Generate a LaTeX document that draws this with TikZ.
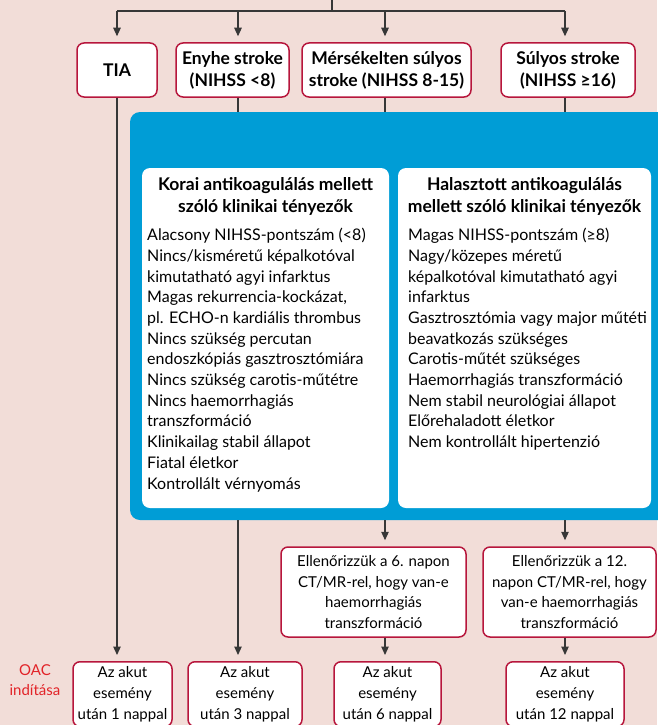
\documentclass[tikz,border=0pt]{standalone}
\usepackage{fontspec}
\setmainfont{Lato}
\usetikzlibrary{arrows.meta}
\definecolor{bg}{RGB}{242,221,216}
\definecolor{frame}{RGB}{183,22,60}
\definecolor{panel}{RGB}{0,157,214}
\definecolor{oacred}{RGB}{226,35,40}
\definecolor{wirec}{RGB}{55,55,55}
\begin{document}
\begin{tikzpicture}[x=1pt,y=-1pt,
  box/.style={draw=frame, line width=1.5pt, fill=white, rounded corners=7pt,
    align=center, inner xsep=0pt, inner ysep=0pt},
  wire/.style={draw=wirec, line width=1.1pt},
  arr/.style={wire, -{Triangle[width=7.5pt,length=8.5pt]}, shorten >=6pt},
  txt/.style={font=\fontsize{15}{20.6}\selectfont},
  listtxt/.style={font=\fontsize{16}{20.7}\selectfont},
  hdr/.style={font=\bfseries\fontsize{17.5}{22}\selectfont},
  plain/.style={inner sep=0pt, align=left, listtxt},
]
\useasboundingbox (0,0) rectangle (657,725);
\fill[bg] (0,0) rectangle (657,725);

% branch points
\coordinate (root) at (332,0);
\coordinate (hub) at (332,11);
\coordinate (b1) at (117,11);
\coordinate (b2) at (238,11);
\coordinate (b3) at (385,11);
\coordinate (b4) at (565,11);

% stroke severity boxes
\node[box, hdr, minimum width=80pt, minimum height=54pt] (tia) at (117,70) {TIA};
\node[box, hdr, minimum width=113pt, minimum height=54pt] (enyhe) at (232.5,70) {Enyhe stroke\\(NIHSS <8)};
\node[box, hdr, minimum width=169pt, minimum height=54pt] (mers) at (386.5,70) {Mérsékelten súlyos\\stroke (NIHSS 8-15)};
\node[box, hdr, minimum width=134pt, minimum height=54pt] (sulyos) at (568,70) {Súlyos stroke\\(NIHSS ≥16)};

% blue panel with the two factor lists
\node[fill=panel, rounded corners=10pt, minimum width=547pt, minimum height=408pt, inner sep=0pt] (panel) at (403.5,316) {};
\node[fill=white, rounded corners=8pt, minimum width=247pt, minimum height=340pt, inner sep=0pt] (early) at (265.5,338) {};
\node[fill=white, rounded corners=8pt, minimum width=253pt, minimum height=340pt, inner sep=0pt] (late) at (524.5,338) {};

\node[hdr, align=center, inner sep=0pt, anchor=north] (earlyt) at (265.5,177) {Korai antikoagulálás mellett\\szóló klinikai tényezők};
\node[hdr, align=center, inner sep=0pt, anchor=north] (latet) at (524.5,177) {Halasztott antikoagulálás\\mellett szóló klinikai tényezők};

\node[plain, anchor=north west] (earlyl) at (147,228) {Alacsony NIHSS-pontszám (<8)\\
Nincs/kisméretű képalkotóval\\
kimutatható agyi infarktus\\
Magas rekurrencia-kockázat,\\
pl. ECHO-n kardiális thrombus\\
Nincs szükség percutan\\
endoszkópiás gasztrosztómiára\\
Nincs szükség carotis-műtétre\\
Nincs haemorrhagiás\\
transzformáció\\
Klinikailag stabil állapot\\
Fiatal életkor\\
Kontrollált vérnyomás};

\node[plain, anchor=north west] (latel) at (408,228) {Magas NIHSS-pontszám (≥8)\\
Nagy/közepes méretű\\
képalkotóval kimutatható agyi\\
infarktus\\
Gasztrosztómia vagy major műtéti\\
beavatkozás szükséges\\
Carotis-műtét szükséges\\
Haemorrhagiás transzformáció\\
Nem stabil neurológiai állapot\\
Előrehaladott életkor\\
Nem kontrollált hipertenzió};

% imaging check boxes
\node[box, txt, minimum width=185pt, minimum height=90pt] (chk6) at (373.5,592) {Ellenőrizzük a 6. napon\\CT/MR-rel, hogy van-e\\haemorrhagiás\\transzformáció};
\node[box, txt, minimum width=173pt, minimum height=90pt] (chk12) at (569.5,592) {Ellenőrizzük a 12.\\napon CT/MR-rel, hogy\\van-e haemorrhagiás\\transzformáció};

% OAC start boxes
\node[txt, text=oacred, align=center, inner sep=0pt, anchor=north] (oac) at (35,664) {OAC\\indítása};
\node[box, txt, anchor=north, inner ysep=5pt, minimum width=99pt] (d1) at (122.5,661) {Az akut\\esemény\\után 1 nappal};
\node[box, txt, anchor=north, inner ysep=5pt, minimum width=114pt] (d3) at (245,661) {Az akut\\esemény\\után 3 nappal};
\node[box, txt, anchor=north, inner ysep=5pt, minimum width=107pt] (d6) at (387.5,661) {Az akut\\esemény\\után 6 nappal};
\node[box, txt, anchor=north, inner ysep=5pt, minimum width=118pt] (d12) at (565,661) {Az akut\\esemény\\után 12 nappal};

% connectors
\draw[wire] (root) -- (hub);
\draw[wire] (b1) -- (b4);
\draw[arr] (b1) -- (b1 |- tia.north);
\draw[arr] (b2) -- (b2 |- enyhe.north);
\draw[arr] (b3) -- (b3 |- mers.north);
\draw[arr] (b4) -- (b4 |- sulyos.north);

\draw[arr] (b1 |- tia.south) -- (b1 |- d1.north);
\draw[wire] (b2 |- enyhe.south) -- (b2 |- panel.north);
\draw[wire] (b3 |- mers.south) -- (b3 |- panel.north);
\draw[wire] (b4 |- sulyos.south) -- (b4 |- panel.north);

\draw[arr] (b2 |- panel.south) -- (b2 |- d3.north);
\draw[arr] (b3 |- panel.south) -- (b3 |- chk6.north);
\draw[arr] (b4 |- panel.south) -- (b4 |- chk12.north);
\draw[arr] (b3 |- chk6.south) -- (b3 |- d6.north);
\draw[arr] (b4 |- chk12.south) -- (b4 |- d12.north);
\end{tikzpicture}
\end{document}
